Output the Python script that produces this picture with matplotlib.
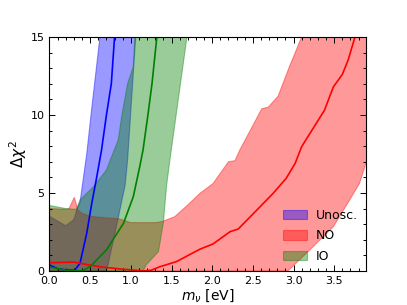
import numpy as np
import matplotlib.pyplot as plt
from matplotlib.ticker import MultipleLocator

# Unosc. band: lower edge (right side) and upper edge (left side)
unosc_lo_m = [0.0, 0.70, 0.72, 0.845, 0.93, 0.96, 1.06, 1.12]
unosc_lo_chi = [0.0, 0.0, 0.4, 3.4, 5.5, 7.1, 15.0, 17.0]
unosc_hi_m = [0.0, 0.1, 0.2, 0.3, 0.34, 0.375, 0.46, 0.51, 0.62, 0.66]
unosc_hi_chi = [3.5, 3.2, 2.9, 3.3, 4.0, 4.4, 7.6, 10.0, 15.0, 17.0]
unosc_m = [0.0, 0.1, 0.2, 0.31, 0.375, 0.457, 0.52, 0.58, 0.64, 0.70, 0.76, 0.80]
unosc_chi = [0.38, 0.15, 0.07, 0.05, 0.49, 2.4, 4.34, 6.0, 7.76, 10.0, 12.0, 15.0]

# NO band
no_lo_m = [0.0, 2.93, 3.20, 3.49, 3.69, 3.81, 3.89, 4.0, 4.0]
no_lo_chi = [0.0, 0.0, 1.35, 2.84, 4.55, 5.6, 6.9, 8.6, 17.0]
no_hi_m = [0.0, 0.2, 0.24, 0.305, 0.35, 0.4, 0.5, 0.7, 0.85, 1.0, 1.3, 1.38,
           1.54, 1.70, 1.85, 2.01, 2.20, 2.28, 2.34, 2.61, 2.69, 2.81, 2.95,
           3.10, 3.2]
no_hi_chi = [4.0, 3.95, 4.0, 4.72, 3.9, 3.7, 3.5, 3.4, 3.35, 3.1, 3.1, 3.16,
             3.48, 4.23, 4.98, 5.6, 7.0, 7.07, 7.76, 10.4, 10.5, 11.2, 13.1,
             15.0, 17.0]
no_m = [0.0, 0.30, 0.45, 0.62, 0.85, 1.03, 1.15, 1.25, 1.36, 1.56, 1.85,
        2.01, 2.22, 2.32, 2.55, 2.75, 2.91, 3.02, 3.10, 3.38, 3.49, 3.60,
        3.67, 3.75]
no_chi = [0.53, 0.57, 0.42, 0.27, 0.14, 0.06, 0.0, 0.05, 0.28, 0.6, 1.4,
          1.73, 2.52, 2.69, 3.91, 4.98, 5.94, 6.9, 7.97, 10.3, 11.8, 12.6,
          13.5, 14.9]

# IO band
io_lo_m = [0.0, 1.15, 1.19, 1.34, 1.40, 1.44, 1.48, 1.69, 1.74]
io_lo_chi = [0.0, 0.0, 0.4, 1.24, 3.1, 5.5, 7.1, 15.0, 17.0]
io_hi_m = [0.0, 0.2, 0.33, 0.375, 0.54, 0.70, 0.78, 0.845, 0.89, 0.96,
           1.03, 1.05, 1.06]
io_hi_chi = [4.2, 4.0, 3.95, 4.55, 5.4, 6.47, 7.55, 8.4, 10.0, 12.0,
             13.1, 15.0, 17.0]
io_m = [0.0, 0.2, 0.4, 0.5, 0.70, 0.91, 1.03, 1.11, 1.15, 1.21, 1.26, 1.32]
io_chi = [0.25, 0.05, 0.0, 0.28, 1.35, 3.06, 4.76, 6.7, 7.76, 10.0, 12.0, 15.0]


def band(ax, lo_m, lo_chi, hi_m, hi_chi, color, label):
    xs = np.concatenate([lo_m, hi_m[::-1]])
    ys = np.concatenate([lo_chi, hi_chi[::-1]])
    ax.fill(xs, ys, color=color, alpha=0.4, lw=0.8, label=label)


fig = plt.figure(figsize=(4.07, 3.05), dpi=100)
ax = fig.add_axes([0.1216, 0.1115, 0.7775, 0.7675])

band(ax, unosc_lo_m, unosc_lo_chi, unosc_hi_m, unosc_hi_chi, "blue", "Unosc.")
band(ax, no_lo_m, no_lo_chi, no_hi_m, no_hi_chi, "red", "NO")
band(ax, io_lo_m, io_lo_chi, io_hi_m, io_hi_chi, "green", "IO")

ax.plot(unosc_m, unosc_chi, color="blue", lw=1.2)
ax.plot(no_m, no_chi, color="red", lw=1.2)
ax.plot(io_m, io_chi, color="green", lw=1.2)

ax.set_xlim(0, 3.89)
ax.set_ylim(0, 15)
ax.xaxis.set_major_locator(MultipleLocator(0.5))
ax.xaxis.set_minor_locator(MultipleLocator(0.1))
ax.yaxis.set_major_locator(MultipleLocator(5))
ax.yaxis.set_minor_locator(MultipleLocator(1))
ax.tick_params(which="both", direction="in", top=True, right=True,
               labelsize=8, width=0.7)
ax.tick_params(which="major", length=4.3)
ax.tick_params(which="minor", length=2.4)

ax.set_xlabel(r"$m_\nu$ [eV]", fontsize=10, labelpad=1)
ax.set_ylabel(r"$\Delta\chi^2$", fontsize=11, labelpad=1)

ax.legend(loc="lower right", frameon=False, fontsize=9, handlelength=1.9,
          handleheight=0.8, borderaxespad=0.25, labelspacing=0.6,
          handletextpad=0.7)

fig.savefig("out.png", dpi=100)
